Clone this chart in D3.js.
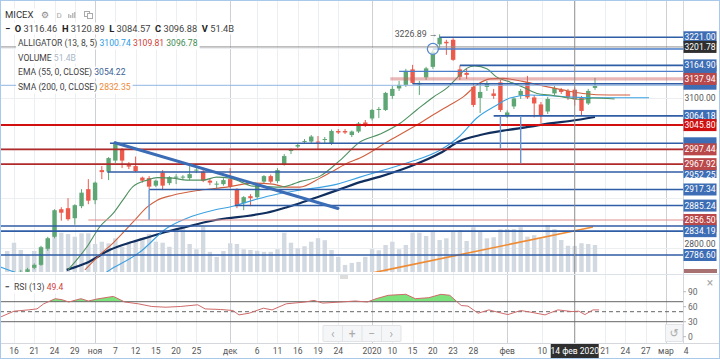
<!DOCTYPE html>
<html><head><meta charset="utf-8">
<script src="https://cdn.jsdelivr.net/npm/d3@7/dist/d3.min.js"></script>
<style>
html,body{margin:0;padding:0;background:#fff;}
svg{display:block;font-family:Roboto,"Liberation Sans",sans-serif;}
text{white-space:pre;}
</style></head><body>
<svg id="chart" width="720" height="359"></svg>
<script>
// ================= DATA =================
const firstDay = -1; // trading-day index of first entry
const opens  = [2742,2746,2750,2753,2761,2767,2799,2823,2878,2880,2860,2884,2918,2896,2956,2953,2975,2998,2966,2964,2941,2940,2925,2951,2930,2941,2941,2940,2955,2953,2935,2928,2928,2938,2918,2890,2904,2902,2933,2944,2934,2968,2994,3003,3013,3013,3013,3016,3009,3034,3034,3026,3033,3051,3059,3076,3076,3104,3119,3126,3157,3127,3141,3162,3207,3212,3216,3157,3150,3122,3100,3122,3109,3131,3066,3083,3105,3131,3101,3087,3073,3109,3116,3114,3116.46,3101,3089,3120];
const highs  = [2750,2754,2757,2761,2770,2805,2823,2878,2882,2900,2888,2918,2938,2933,2964,2982,3013,3000,2972,2983,2943,2944,2937,2956,2944,2948,2946,2964,2960,2958,2940,2934,2940,2960,2920,2904,2908,2928,2946,2947,2960,2988,2999,3010,3018,3026,3024,3022,3037,3038,3038,3035,3052,3056,3078,3082,3112,3124,3134,3158,3166,3134,3162,3196,3226.89,3216,3219,3165,3158,3128,3130,3134,3118,3136,3075,3102,3118,3144,3106,3092,3102,3124,3120,3118,3120.89,3104,3118,3140];
const lows   = [2734,2740,2745,2749,2758,2765,2795,2820,2855,2855,2847,2880,2888,2888,2938,2936,2970,2960,2958,2952,2931,2918,2922,2916,2926,2928,2936,2936,2950,2932,2926,2920,2925,2920,2880,2876,2884,2898,2930,2930,2930,2965,2988,3000,3008,3010,2996,3008,3006,3028,3028,3022,3030,3042,3055,3060,3074,3098,3114,3122,3128,3106,3136,3158,3200,3186,3174,3136,3138,3082,3070,3114,3098,3072,3060,3078,3098,3098,3061,3050,3068,3105,3108,3096,3084.57,3065,3086,3116];
const closes = [2746,2750,2753,2758,2767,2802,2820,2876,2871,2858,2886,2911,2895,2931,2952,2980,3008,2975,2963,2954,2935,2923,2935,2925,2942,2943,2943,2948,2957,2935,2931,2929,2936,2923,2886,2902,2900,2926,2944,2933,2956,2984,2997,3006,3014,3023,3011,3018,3034,3031,3031,3033,3049,3046,3076,3078,3110,3118,3126,3154,3130,3130,3159,3192,3220,3209,3176,3142,3146,3086,3112,3129,3104,3076,3071,3099,3114,3101,3089,3064,3098,3120,3112,3101,3096.88,3074,3114,3124];
const volumes = [41.6,58,43.6,33.7,41.6,50,66.7,89.7,77.8,75.2,69.9,76.6,76.6,55.4,60,56.8,66.7,50,60,60,66.7,75.2,60,58,50,83,86.5,55.4,45,89.7,40,30,41.6,56.8,55.4,45,43.6,42,40,40,45,77.8,58,47,51,60,67,63,43.6,30,14,18,20,30,45,43,53.5,60,45,53.5,77.8,77.8,71.3,79.8,63.4,66.7,79.8,83,61.4,88.5,79.8,66.7,68.7,84.5,85,85,88.5,70,73,66.7,93,85,63.4,52,51.4,57,55.4,53.5];

// Alligator lines (plotted day index, value)
const lipsPts = [[8,2757],[10.8,2803],[12.7,2843],[14.7,2870],[16.1,2896],[17.6,2923],[19.7,2936],[21.2,2941],[23.5,2940],[25.6,2936],[28,2936],[30,2942],[32,2940],[33.5,2933],[35.4,2924],[37.4,2923],[39.4,2922],[41.3,2928],[42.3,2933],[45.3,2944],[48.3,2976],[51.2,3012],[54.2,3028],[57.1,3049],[59.6,3076],[62.1,3102],[64,3119],[65.5,3139],[67,3159],[68.2,3164],[70,3158],[71.4,3142],[73.4,3132],[75.3,3122],[77.4,3109],[79.8,3105],[81.8,3100.5],[83.8,3097],[85.7,3100],[88.9,3098]];
const teethPts = [[10.5,2757],[12.7,2787],[14.7,2811],[17.6,2852],[19.7,2882],[21.2,2896],[23.5,2906],[27.5,2916],[31.5,2922],[35.4,2930],[38.3,2928],[40.4,2922],[42.3,2922],[45.3,2940],[47.2,2954],[49.7,2972],[51.2,2980],[55.7,3016],[59.6,3046],[62,3066],[64.5,3086],[66.5,3102],[68.5,3126],[70.5,3138],[72.4,3139],[75.3,3133],[78.3,3124],[81.2,3116],[84.2,3109],[88.2,3106],[91.2,3106]];
const jawPts = [[-2.1,2763],[1,2748],[4,2735],[11,2730],[14.2,2757],[18.7,2793],[22.6,2840],[25.6,2860],[29.5,2876],[32.4,2884],[35.9,2898],[38.9,2908],[42.3,2916],[47.2,2926],[51.2,2942],[54.2,2954],[58.6,2972],[63.1,2996],[66,3024],[68.5,3060],[71.5,3086],[73.4,3100],[76.4,3106],[79.3,3104.5],[82.3,3102],[85.3,3100.5],[88.2,3100.5],[94,3100.5]];
const emaPts = [[7.8,2757],[10.8,2771],[14.2,2797],[17.6,2813],[20.1,2823],[22.6,2833],[25.6,2843],[28.6,2853],[31.5,2860],[34.5,2864.5],[37.4,2871],[40.4,2882],[42.3,2890],[45.3,2904],[48.3,2918],[51.2,2932],[54.2,2943],[58.6,2963],[63.1,2990],[66,3014],[69,3026],[73,3036],[76.4,3042.6],[79.3,3049.4],[82.3,3054],[86,3062]];
const smaPts = [[40,2713],[55.2,2757],[85.7,2842.5]];

// RSI (13)
const rsiPts = [[-2.1,38.8],[0,51],[2.1,53.6],[3.4,55.6],[4.4,65.8],[6.1,76],[7.1,74],[8.1,69.4],[9.9,76],[11,71.4],[12.3,75.4],[14.7,80.6],[16.4,69.4],[18.4,65.8],[20.4,60.4],[22.5,59],[24.6,60.4],[27.2,63.8],[28.3,55.6],[30.6,54.4],[32.4,52.4],[33.3,43.6],[34.8,47],[36.9,57],[38.2,53.6],[40.3,65.8],[43.1,69.4],[44.4,72.6],[45.7,67.2],[48.4,69.4],[50.5,71.4],[52.3,69.4],[53.6,76],[55.4,82.8],[58,84.8],[59.4,76],[61.4,78],[63.2,84.8],[64.5,82.8],[66.2,62.4],[67.2,61.2],[68.7,47],[70.3,53.6],[71.6,49],[73.1,44.2],[75,52.4],[76.5,49],[78.6,43.6],[80.5,53.6],[82.6,50.2],[83.6,51],[84.5,44.2],[85.7,53.6],[86.6,53.6]];
const rsiLevels = [70, 50, 30];
const rsiTicks = [90, 60, 30, 0];

// Date axis
const dateLabels = ["16","21","24","29","ноя","7","12","15","20","25","дек","6","11","16","19","24","2020","10","15","20","23","28","фев","10","21","24","27","мар","4"];
const dateDays   = [0,3,6,9,12,15,18,21,24,27,32,36,39,42,45,48,53,56,59,62,65,68,73,78.2,87.5,90.5,93.5,96.5,99.5];
const monthLabels = ["ноя","дек","2020","фев","мар"];
const crossDay = 83, crossLabel = "14 фев 2020", crossPrice = 3201.78;

// Price axis ticks (grid) and the ones whose text shows
const priceTicks = [3200, 3100, 3000, 2900, 2800];
const priceTickTexts = [3100, 2800];

// Drawn horizontal levels: price, start day (null = full width), kind
const levelPrices = [2786.60,2834.19,2844.5,2856.50,2885.24,2917.34,2952.25,2967.92,2997.44,3009.5,3045.80,3064.18,3125.2,3128.4,3137.94,3152.9,3164.90,3197.7,3221.00];
const levelStart  = [null,null,null,11,32.7,20,13.8,null,null,14.2,null,71,null,59,55.7,57,66,62,63];
const levelKind   = ["blue","blue","blue","pink","blue","blue","blue","dred","dred","blue","red","blue","lblue","blue","band","mblue","blue","mblue","blue"];
// vertical segments: day, from price, to price
const vSegDays = [72, 75, 20];
const vSegFrom = [3064.18, 3064.18, 2917.34];
const vSegTo   = [2999.6, 2969.6, 2857];
// trend line
const trendStart = [14.95, 3010.7], trendEnd = [47.96, 2879.5];
const handleAt = [62, 3197.7];
const highMark = [63, 3226.89];

// Right axis boxes in draw order: price, kind, whether its text shows
const axisBoxPrices = [3221.00,3152.90,3164.90,3128.40,3137.94,3064.18,3045.80,3009.50,2997.44,2952.25,2967.92,2917.34,2885.24,2844.50,2856.50,2834.19,2786.60];
const axisBoxKinds  = ["blue","blue","blue","blue","mred","blue","red","blue","mred","blue","mred","blue","blue","blue","mred","blue","blue"];
const axisBoxText   = [true,false,true,false,true,true,true,false,true,true,true,true,true,false,true,true,true];

// Legend
const ohlcLetters = ["O","H","L","C","V"];
const ohlcValues = ["3116.46","3120.89","3084.57","3096.88","51.4B"];
const alligatorVals = ["3100.74","3109.81","3096.78"];
const volumeVal = "51.4B", emaVal = "3054.22", smaVal = "2832.35", rsiVal = "49.4";

// ================= DRAW =================
const svg = d3.select("#chart");
const plotR = 683, priceBot = 272, rsiTop = 276, rsiBot = 343;

const x = d3.scaleLinear().domain([0, 86]).range([14, 595]);
const y = d3.scaleLinear().domain([2752.7, 3295.4]).range([priceBot, 0]);
const yVol = d3.scaleLinear().domain([0, 100]).range([priceBot, priceBot - 50.5]);
const yR = d3.scaleLinear().domain([0, 100]).range([336.7, 286.7]);

const defs = svg.append("defs");
defs.append("clipPath").attr("id","cp").append("rect").attr("x",0).attr("y",0).attr("width",plotR).attr("height",priceBot);
defs.append("clipPath").attr("id","cr").append("rect").attr("x",0).attr("y",rsiTop).attr("width",plotR).attr("height",rsiBot-rsiTop);
defs.append("clipPath").attr("id","ca").append("rect").attr("x",0).attr("y",rsiTop).attr("width",plotR).attr("height",yR(70)-rsiTop);

svg.append("rect").attr("width",720).attr("height",359).attr("fill","#fff");

// grid
const grid = svg.append("g");
dateDays.forEach((d,i)=>{
  const xx = Math.round(x(d))+0.5;
  if (xx > plotR) return;
  grid.append("line").attr("x1",xx).attr("x2",xx).attr("y1",0).attr("y2",rsiBot)
    .attr("stroke", monthLabels.includes(dateLabels[i]) ? "#cdd1d6" : "#eceff2").attr("stroke-width",1);
});
priceTicks.forEach(p=>{
  const yy = Math.round(y(p))+0.5;
  grid.append("line").attr("x1",0).attr("x2",plotR).attr("y1",yy).attr("y2",yy).attr("stroke","#eceff2");
});

// price pane
const pg = svg.append("g").attr("clip-path","url(#cp)");
const days = opens.map((_,i)=>i+firstDay);
pg.selectAll("rect.vol").data(volumes).join("rect").attr("class","vol")
  .attr("x",(v,i)=>x(days[i])-2.2).attr("width",4.4)
  .attr("y",v=>yVol(v)).attr("height",v=>priceBot-yVol(v)).attr("fill","#d3d9e1");

const green = "#5ea674", red = "#ec5a4c";
const cg = pg.append("g");
opens.forEach((o,i)=>{
  const c = closes[i], col = c >= o ? green : red, xx = x(days[i]);
  cg.append("line").attr("x1",xx).attr("x2",xx).attr("y1",y(highs[i])).attr("y2",y(lows[i])).attr("stroke",col).attr("stroke-width",1);
  const top = y(Math.max(o,c)), bot = y(Math.min(o,c));
  cg.append("rect").attr("x",xx-2.2).attr("width",4.4).attr("y",top).attr("height",Math.max(1,bot-top)).attr("fill",col);
});

const lineGen = d3.line().x(d=>x(d[0])).y(d=>y(d[1])).curve(d3.curveMonotoneX);
pg.append("path").datum(smaPts).attr("d",lineGen).attr("fill","none").attr("stroke","#ef8b33").attr("stroke-width",1.6);
pg.append("path").datum(emaPts).attr("d",lineGen).attr("fill","none").attr("stroke","#112f5e").attr("stroke-width",2.2);
pg.append("path").datum(jawPts).attr("d",lineGen).attr("fill","none").attr("stroke","#3aa1e2").attr("stroke-width",1.1);
pg.append("path").datum(teethPts).attr("d",lineGen).attr("fill","none").attr("stroke","#d1603f").attr("stroke-width",1.1);
pg.append("path").datum(lipsPts).attr("d",lineGen).attr("fill","none").attr("stroke","#4f9160").attr("stroke-width",1.1);

// drawings
const lvlStyle = {
  blue:{c:"#2f5da6",w:1.6}, mblue:{c:"#4b7fcb",w:1.4}, lblue:{c:"#8fb6e3",w:1},
  red:{c:"#d20f0f",w:2}, dred:{c:"#b02a2a",w:1.6}, pink:{c:"#e29090",w:1.2},
  band:{c:"rgba(205,95,95,0.45)",w:3.2}
};
levelPrices.forEach((p,i)=>{
  const s = lvlStyle[levelKind[i]];
  const x1 = levelStart[i]==null ? 0 : x(levelStart[i]);
  pg.append("line").attr("x1",x1).attr("x2",plotR).attr("y1",y(p)).attr("y2",y(p)).attr("stroke",s.c).attr("stroke-width",s.w);
});
vSegDays.forEach((d,i)=>{
  pg.append("line").attr("x1",x(d)).attr("x2",x(d)).attr("y1",y(vSegFrom[i])).attr("y2",y(vSegTo[i]))
    .attr("stroke","#6b93cd").attr("stroke-width",1.4);
});
pg.append("line").attr("x1",x(trendStart[0])).attr("y1",y(trendStart[1])).attr("x2",x(trendEnd[0])).attr("y2",y(trendEnd[1]))
  .attr("stroke","#3b6db7").attr("stroke-width",3).attr("stroke-linecap","round");
pg.append("circle").attr("cx",x(handleAt[0])).attr("cy",y(handleAt[1])).attr("r",5.5)
  .attr("fill","rgba(255,255,255,0.7)").attr("stroke","#5a88cc").attr("stroke-width",1.3);
pg.append("text").attr("x",x(highMark[0])-2).attr("y",y(highMark[1])+3).attr("text-anchor","end")
  .attr("font-size",8.8).attr("fill","#555").text(highMark[1].toFixed(2)+" →");

// crosshair
svg.append("line").attr("x1",0).attr("x2",plotR).attr("y1",y(crossPrice)).attr("y2",y(crossPrice)).attr("stroke","#8e8e8e").attr("stroke-width",1);
svg.append("line").attr("x1",x(crossDay)).attr("x2",x(crossDay)).attr("y1",0).attr("y2",rsiBot).attr("stroke","#8e8e8e").attr("stroke-width",1);

// separator
svg.append("line").attr("x1",0).attr("x2",720).attr("y1",274.5).attr("y2",274.5).attr("stroke","#dde2e8");
svg.append("line").attr("x1",340).attr("x2",348).attr("y1",276).attr("y2",276).attr("stroke","#bbb");
svg.append("line").attr("x1",340).attr("x2",348).attr("y1",278).attr("y2",278).attr("stroke","#bbb");

// RSI pane
const rg = svg.append("g").attr("clip-path","url(#cr)");
const rArea = d3.area().x(d=>x(d[0])).y0(yR(70)).y1(d=>yR(d[1]));
rg.append("path").datum(rsiPts).attr("d",rArea).attr("fill","#7ce37c").attr("clip-path","url(#ca)");
rsiLevels.forEach(l=>{
  rg.append("line").attr("x1",0).attr("x2",plotR).attr("y1",yR(l)).attr("y2",yR(l))
    .attr("stroke","#666").attr("stroke-width",1).attr("stroke-dasharray", l===50 ? "4,3" : null);
});
rg.append("path").datum(rsiPts).attr("d",d3.line().x(d=>x(d[0])).y(d=>yR(d[1]))).attr("fill","none").attr("stroke","#cf6a6a").attr("stroke-width",1);

// nav buttons
const nav = svg.append("g");
nav.append("rect").attr("x",323).attr("y",325.5).attr("width",78).attr("height",16).attr("fill","#f5f6f7").attr("stroke","#e1e3e6").attr("rx",1);
["‹","+","−","›"].forEach((t,i)=>{
  if (i>0) nav.append("line").attr("x1",323+i*19.5).attr("x2",323+i*19.5).attr("y1",325.5).attr("y2",341.5).attr("stroke","#e1e3e6");
  nav.append("text").attr("x",332.75+i*19.5).attr("y",337.5).attr("text-anchor","middle").attr("font-size",12).attr("fill","#aaa").text(t);
});
svg.append("rect").attr("x",665.5).attr("y",324.5).attr("width",17).attr("height",17).attr("fill","#f5f6f7").attr("stroke","#e1e3e6");
svg.append("text").attr("x",674).attr("y",337).attr("text-anchor","middle").attr("font-size",11).attr("font-family","DejaVu Sans").attr("fill","#aaa").text("↺");

// axes frame
svg.append("line").attr("x1",plotR+0.5).attr("x2",plotR+0.5).attr("y1",0).attr("y2",rsiBot).attr("stroke","#d4d8dd");
svg.append("line").attr("x1",0).attr("x2",720).attr("y1",rsiBot+0.5).attr("y2",rsiBot+0.5).attr("stroke","#d4d8dd");

// price axis
const ax = svg.append("g");
let clipN = 0;
function clippedText(g, xx, yy, txt, fill, visTop, visBot){
  const id = "lc"+(clipN++);
  defs.append("clipPath").attr("id",id).append("rect").attr("x",683).attr("y",visTop).attr("width",37).attr("height",Math.max(0,visBot-visTop));
  g.append("text").attr("x",xx).attr("y",yy).attr("text-anchor","middle").attr("font-size",8.5).attr("fill",fill).attr("clip-path","url(#"+id+")").text(txt);
}
priceTickTexts.forEach(p=>{
  const yy = y(p);
  // 2800.00 sits half under the 2786.60 box: show its upper part
  const base = p===2800 ? yy-1.5 : yy+3;
  clippedText(ax, 700, base, p.toFixed(2), "#555", yy-12, p===2800 ? y(2786.60)-6 : yy+8);
});
ax.append("rect").attr("x",684).attr("y",269).attr("width",33).attr("height",4).attr("fill","#a87272");
const boxFill = {blue:"#3d6db4", mred:"#b8484a", red:"#cf1010", dark:"#2f2f2f"};
axisBoxPrices.forEach((p,i)=>{
  const yy = y(p);
  ax.append("rect").attr("x",683.5).attr("y",yy-6).attr("width",33).attr("height",12).attr("fill",boxFill[axisBoxKinds[i]]);
  if (!axisBoxText[i]) return;
  // part of this label not covered by later labels
  let top = yy-6, bot = yy+6, shift = 0;
  axisBoxPrices.slice(i+1).concat([crossPrice]).forEach(q=>{
    const qy = y(q);
    if (qy-6 < bot && qy+6 > top){
      if (qy < yy){ top = Math.max(top, qy+6); shift = Math.max(shift, 2.6); }
      else { bot = Math.min(bot, qy-6); }
    }
  });
  clippedText(ax, 700, yy+3+shift, p.toFixed(2), "#fff", top, bot);
});
ax.append("rect").attr("x",683.5).attr("y",y(crossPrice)-6).attr("width",33).attr("height",12).attr("fill",boxFill.dark);
ax.append("text").attr("x",700).attr("y",y(crossPrice)+3).attr("text-anchor","middle").attr("font-size",8.5).attr("fill","#fff").text(crossPrice.toFixed(2));

// RSI axis
rsiTicks.forEach(t=>{
  svg.append("text").attr("x",688).attr("y",yR(t)+3).attr("font-size",8.5).attr("fill","#666").text(t);
  svg.append("line").attr("x1",683).attr("x2",686).attr("y1",yR(t)).attr("y2",yR(t)).attr("stroke","#bbb");
});
svg.append("text").attr("x",710).attr("y",287).attr("text-anchor","middle").attr("font-size",12).attr("fill","#aaa").text("×");

// date axis
dateLabels.forEach((t,i)=>{
  svg.append("text").attr("x",x(dateDays[i])).attr("y",354).attr("text-anchor","middle").attr("font-size",8.5).attr("fill","#555").text(t);
});
const cx = x(crossDay);
svg.append("rect").attr("x",cx-24).attr("y",344).attr("width",48).attr("height",14).attr("fill","#2f2f2f");
svg.append("text").attr("x",cx).attr("y",354).attr("text-anchor","middle").attr("font-size",8.5).attr("fill","#fff").text(crossLabel);

// legends: parts = [text, color, bold]
function legendRow(xx, yy, size, parts){
  const t = svg.append("text").attr("x",xx).attr("y",yy).attr("font-size",size);
  parts.forEach(p=>t.append("tspan").attr("fill",p[1]).attr("font-weight",p[2]?"bold":null).text(p[0]));
  const b = t.node().getBBox();
  svg.insert("rect", function(){return t.node();}).attr("x",b.x-2).attr("y",b.y-0.5).attr("width",b.width+4).attr("height",b.height+1).attr("fill","rgba(255,255,255,0.92)");
  return t;
}
const tc = "#434343";
legendRow(5, 18, 9.5, [["MICEX", "#333"]]);
svg.append("text").attr("x",45).attr("y",18).attr("text-anchor","middle").attr("font-family","DejaVu Sans").attr("font-size",9).attr("fill","#8a8a8a").text("⚙");
svg.append("text").attr("x",59).attr("y",18).attr("text-anchor","middle").attr("font-size",8).attr("fill","#aaa").text("D");
[[68,4],[70,3],[72,5],[74,6]].forEach(b=>svg.append("rect").attr("x",b[0]).attr("y",18-b[1]).attr("width",1.5).attr("height",b[1]).attr("fill","#bbb"));
svg.append("rect").attr("x",84.5).attr("y",11.5).attr("width",5).attr("height",5).attr("fill","none").attr("stroke","#aaa");
svg.append("rect").attr("x",87.5).attr("y",13.5).attr("width",5).attr("height",5).attr("fill","#fff").attr("stroke","#aaa");

const row2 = [["−  ","#222",true]];
ohlcLetters.forEach((l,i)=>{ row2.push([l+" ","#222",true]); row2.push([ohlcValues[i]+(i<4?"  ":""),tc,false]); });
legendRow(5, 32, 9.3, row2);
legendRow(18, 46, 8.6, [["ALLIGATOR (13, 8, 5) ",tc],[alligatorVals[0],"#2d9ae4"],[" ",tc],[alligatorVals[1],"#cf4036"],[" ",tc],[alligatorVals[2],"#3f8a52"]]);
legendRow(18, 61, 8.6, [["VOLUME ",tc],[volumeVal,"#a9b8c8"]]);
legendRow(18, 75, 8.6, [["EMA (55, 0, CLOSE) ",tc],[emaVal,"#3a5f96"]]);
legendRow(18, 90, 8.6, [["SMA (200, 0, CLOSE) ",tc],[smaVal,"#ee8a38"]]);
legendRow(5, 290, 8.6, [["−  ","#222",true],["RSI (13) ",tc],[rsiVal,"#d0413a"]]);

// outer frame
svg.append("rect").attr("x",0.5).attr("y",0.5).attr("width",719).attr("height",358).attr("fill","none").attr("stroke","#a9c9ea");
</script>
</body></html>
